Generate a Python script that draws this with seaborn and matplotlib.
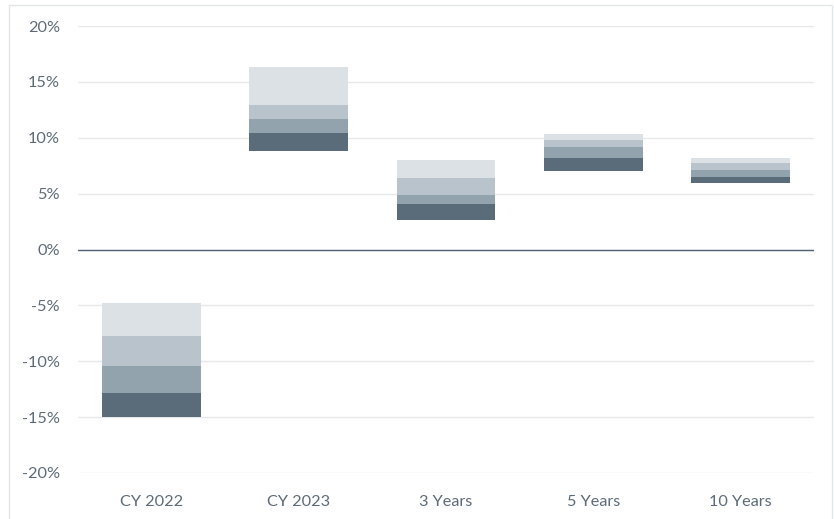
import matplotlib
matplotlib.use("Agg")
import matplotlib.pyplot as plt
import seaborn as sns
import pandas as pd
from matplotlib.patches import Rectangle
from matplotlib.ticker import FuncFormatter

categories = ["CY 2022", "CY 2023", "3 Years", "5 Years", "10 Years"]
p95 = [-14.95, 8.8, 2.66, 7.0, 5.97]
p75 = [-12.8, 10.4, 4.09, 8.17, 6.5]
p50 = [-10.4, 11.7, 4.92, 9.16, 7.07]
p25 = [-7.7, 12.9, 6.36, 9.76, 7.7]
p5 = [-4.83, 16.3, 7.97, 10.3, 8.2]
yticks = [-20, -15, -10, -5, 0, 5, 10, 15, 20]

sns.set_theme(style="white")
plt.rcParams['font.family'] = ['Lato', 'DejaVu Sans']

fig = plt.figure(figsize=(8.34, 5.19), dpi=100)
ax = fig.add_axes([78/834, 1-473/519, (814-78)/834, (473-26)/519])

layers = [(p95, p75, "#5A6B7A"), (p75, p50, "#92A3AE"), (p50, p25, "#B9C3CB"), (p25, p5, "#DCE1E5")]
for lo, hi, col in layers:
    df = pd.DataFrame({"cat": categories, "h": [h - l for l, h in zip(lo, hi)], "b": lo})
    sns.barplot(data=df, x="cat", y="h", bottom=df["b"], color=col, width=0.67,
                saturation=1, ax=ax, linewidth=0, zorder=3)

ax.set_ylim(-20, 20)
ax.set_xlim(-0.5, 4.5)
ax.set_yticks(yticks)
ax.yaxis.set_major_formatter(FuncFormatter(lambda v, p: f"{v:.0f}%"))
ax.grid(axis="y", color="#E6E9EB", linewidth=1, zorder=0)
ax.axhline(0, color="#4E6476", linewidth=1, zorder=4)
for s in ax.spines.values():
    s.set_visible(False)
ax.tick_params(axis="both", length=0, labelsize=11.7, colors="#5D6B78")
ax.tick_params(axis="y", pad=13)
ax.tick_params(axis="x", pad=15.5)
ax.set_xlabel("")
ax.set_ylabel("")

fig.patches.append(Rectangle((9/834, -0.01), (832-9)/834, 1-5/519+0.01, transform=fig.transFigure,
                             fill=False, edgecolor="#E3E6E8", linewidth=1))
fig.savefig("out.png", dpi=100)
